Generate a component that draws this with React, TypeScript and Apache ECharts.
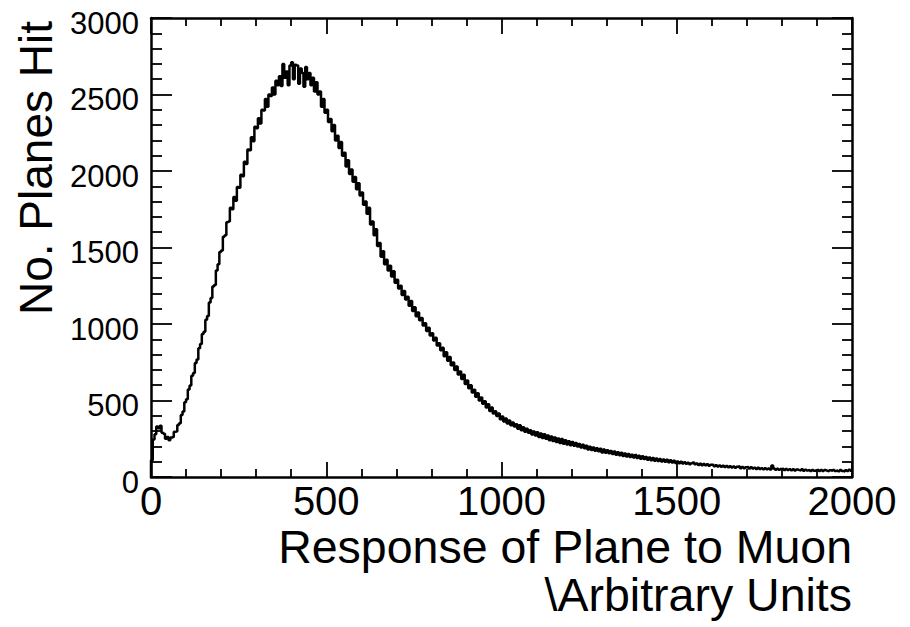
import React, { useEffect, useRef } from 'react';
import * as echarts from 'echarts';

// Histogram: bin width 5 units, range 0–2000 (400 bins)
const binWidth = 5;
const xRange = [0, 2000];
const yRange = [0, 3000];
const xTickStep = 500;
const yTickStep = 500;

const counts = [
  // 0–95
  110, 245, 280, 330, 318, 335, 290, 282, 250, 262, 240, 258, 262, 295, 298, 340, 352, 405, 428, 488,
  // 100–195
  508, 572, 598, 662, 680, 745, 768, 842, 870, 935, 950, 1028, 1052, 1140, 1170, 1245, 1255, 1350, 1390, 1470,
  // 200–295
  1480, 1570, 1580, 1665, 1670, 1760, 1750, 1830, 1805, 1895, 1890, 1975, 1965, 2060, 2045, 2140, 2135, 2220, 2195, 2290,
  // 300–395
  2280, 2345, 2310, 2400, 2395, 2470, 2420, 2500, 2490, 2545, 2500, 2590, 2560, 2620, 2555, 2700, 2610, 2650, 2560, 2690,
  // 400–495
  2710, 2600, 2695, 2690, 2570, 2670, 2640, 2550, 2680, 2600, 2640, 2560, 2610, 2520, 2580, 2500, 2520, 2420, 2470, 2380,
  // 500–595
  2400, 2320, 2340, 2260, 2300, 2200, 2230, 2150, 2190, 2100, 2120, 2030, 2070, 1980, 2010, 1930, 1960, 1880, 1920, 1840,
  // 600–695
  1860, 1780, 1800, 1720, 1760, 1650, 1670, 1580, 1620, 1510, 1530, 1440, 1475, 1390, 1420, 1350, 1380, 1310, 1345, 1270,
  // 700–795
  1290, 1232, 1250, 1190, 1215, 1160, 1178, 1120, 1150, 1085, 1110, 1050, 1075, 1025, 1040, 990, 1005, 955, 975, 925,
  // 800–895
  940, 892, 910, 860, 875, 828, 845, 790, 815, 760, 785, 730, 748, 700, 722, 670, 690, 640, 668, 608,
  // 900–995
  630, 580, 600, 552, 570, 525, 548, 500, 520, 478, 495, 455, 475, 432, 455, 415, 430, 398, 415, 378,
  // 1000–1095
  395, 362, 382, 350, 370, 338, 356, 330, 345, 315, 338, 305, 325, 295, 315, 290, 305, 278, 298, 272,
  // 1100–1195
  292, 262, 285, 255, 280, 250, 272, 240, 265, 236, 258, 228, 252, 222, 248, 218, 240, 212, 234, 208,
  // 1200–1295
  228, 205, 222, 200, 215, 192, 210, 188, 205, 180, 198, 176, 192, 172, 188, 168, 184, 160, 180, 158,
  // 1300–1395
  175, 155, 170, 150, 166, 146, 162, 142, 158, 138, 154, 134, 150, 130, 146, 127, 143, 124, 139, 120,
  // 1400–1495
  135, 117, 130, 113, 127, 110, 124, 107, 121, 104, 118, 101, 115, 99, 112, 96, 109, 94, 106, 91,
  // 1500–1595
  102, 90, 99, 88, 96, 86, 93, 84, 90, 95, 83, 88, 79, 87, 77, 85, 76, 83, 74, 80,
  // 1600–1695
  80, 71, 77, 69, 75, 67, 73, 65, 72, 63, 70, 62, 68, 60, 67, 70, 58, 66, 57, 64,
  // 1700–1795
  66, 56, 63, 55, 61, 52, 60, 53, 58, 51, 57, 50, 56, 49, 75, 55, 48, 54, 47, 53,
  // 1800–1895
  54, 46, 52, 45, 51, 44, 50, 43, 49, 45, 42, 50, 41, 48, 43, 47, 40, 46, 41, 45,
  // 1900–1995
  48, 40, 46, 39, 45, 41, 38, 44, 40, 46, 39, 43, 37, 45, 40, 36, 44, 39, 47, 41,
];

const yTitle = 'No. Planes Hit';
const xTitleLine1 = 'Response of Plane to Muon';
const xTitleLine2 = '\\Arbitrary Units';

const FONT = '"Liberation Sans", Arial, Helvetica, sans-serif';

export default function App() {
  const ref = useRef<HTMLDivElement>(null);

  useEffect(() => {
    if (!ref.current) return;
    const chart = echarts.init(ref.current, null, { renderer: 'svg' });

    const data: number[][] = [[xRange[0], 0]];
    counts.forEach((c, i) => data.push([xRange[0] + i * binWidth, c]));
    data.push([xRange[0] + counts.length * binWidth, counts[counts.length - 1]]);

    const lineStyle = { color: '#000', width: 2.5 };
    const tickStyle = { color: '#000', width: 1.8 };

    const baseX = {
      type: 'value' as const,
      min: xRange[0],
      max: xRange[1],
      interval: xTickStep,
      splitLine: { show: false },
      axisLine: { show: true, onZero: false, lineStyle },
      minorTick: { show: true, splitNumber: 5, length: 8, lineStyle: tickStyle },
      axisTick: { show: true, inside: true, length: 15, lineStyle: tickStyle },
    };
    const baseY = {
      type: 'value' as const,
      min: yRange[0],
      max: yRange[1],
      interval: yTickStep,
      splitLine: { show: false },
      axisLine: { show: true, onZero: false, lineStyle },
      minorTick: { show: true, splitNumber: 5, length: 11, lineStyle: tickStyle },
      axisTick: { show: true, inside: true, length: 21, lineStyle: tickStyle },
    };

    chart.setOption({
      animation: false,
      backgroundColor: '#fff',
      grid: { left: 151, top: 18, right: 58, bottom: 150, containLabel: false },
      xAxis: [
        {
          ...baseX,
          position: 'bottom',
          axisLabel: {
            show: true,
            color: '#000',
            fontSize: 40,
            fontFamily: FONT,
            margin: 4,
            showMinLabel: true,
            showMaxLabel: true,
            formatter: (v: number) => String(v),
          },
        },
        {
          ...baseX,
          position: 'top',
          axisLabel: { show: false },
          axisTick: { ...baseX.axisTick, length: 16 },
        },
      ],
      yAxis: [
        {
          ...baseY,
          position: 'left',
          axisLabel: {
            show: true,
            color: '#000',
            fontSize: 31,
            fontFamily: FONT,
            margin: 12,
            showMinLabel: true,
            showMaxLabel: true,
            formatter: (v: number) => `{a|${v}}`,
            rich: {
              a: {
                color: '#000',
                fontSize: 31,
                fontFamily: FONT,
                padding: [10, 0, 0, 0],
              },
            },
          },
        },
        {
          ...baseY,
          position: 'right',
          axisLabel: { show: false },
          axisTick: { ...baseY.axisTick, length: 20 },
          minorTick: { ...baseY.minorTick, length: 10 },
        },
      ],
      series: [
        {
          type: 'line',
          xAxisIndex: 0,
          yAxisIndex: 0,
          step: 'end',
          symbol: 'none',
          data,
          lineStyle: { color: '#000', width: 2.5 },
          itemStyle: { color: '#000' },
        },
      ],
      graphic: [
        {
          type: 'text',
          x: 36,
          y: 21,
          rotation: Math.PI / 2,
          style: {
            text: yTitle,
            fontSize: 46,
            fontFamily: FONT,
            fill: '#000',
            align: 'right',
            verticalAlign: 'middle',
          },
        },
        {
          type: 'text',
          x: 852,
          y: 547,
          style: {
            text: xTitleLine1,
            fontSize: 46.5,
            fontFamily: FONT,
            fill: '#000',
            align: 'right',
            verticalAlign: 'middle',
          },
        },
        {
          type: 'text',
          x: 852,
          y: 595,
          style: {
            text: xTitleLine2,
            fontSize: 46.5,
            fontFamily: FONT,
            fill: '#000',
            align: 'right',
            verticalAlign: 'middle',
          },
        },
      ],
    });

    return () => chart.dispose();
  }, []);

  return (
    <div
      ref={ref}
      style={{ position: 'fixed', left: 0, top: 0, width: 910, height: 627, background: '#fff' }}
    />
  );
}
